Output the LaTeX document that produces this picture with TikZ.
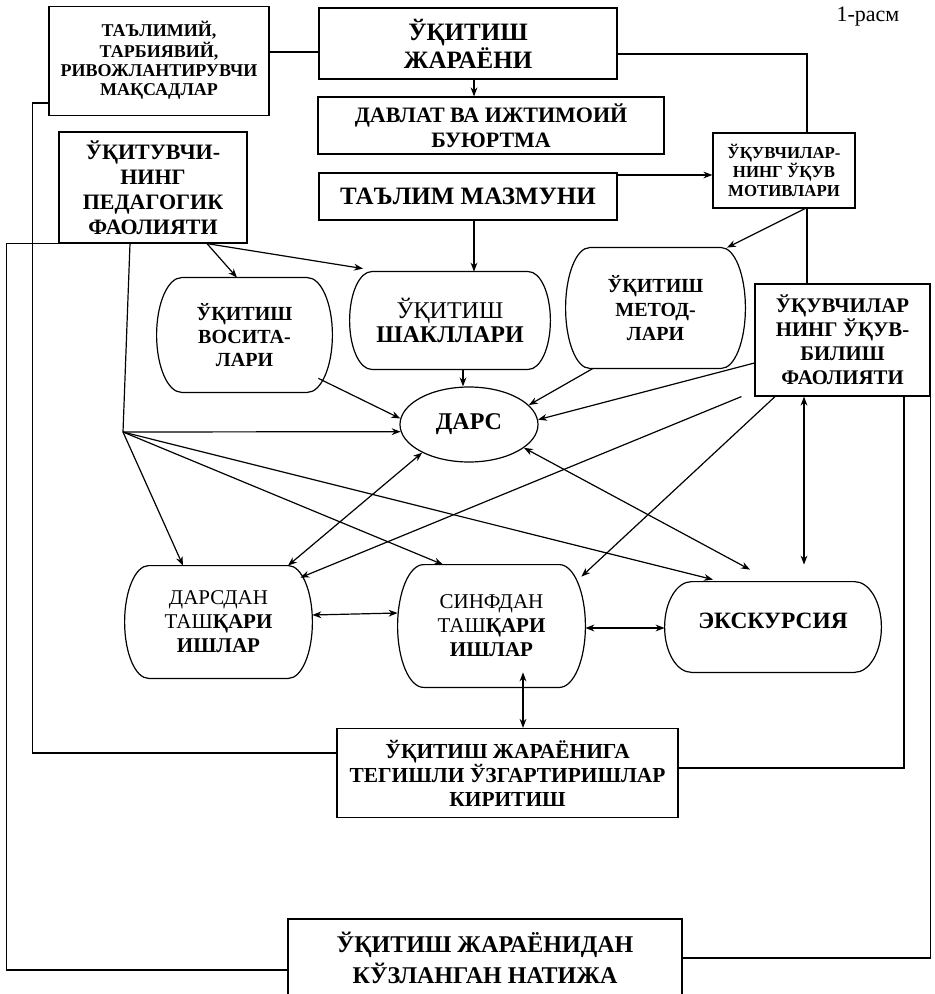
\documentclass[tikz,border=0pt]{standalone}
\usepackage{fontspec}
\setmainfont{Liberation Serif}
\usetikzlibrary{arrows.meta,calc,shapes.geometric}
\newcommand\stadium[2]{%
 \draw[ln] ([xshift=#2]#1.north west) -- ([xshift=-#2]#1.north east)
  .. controls ([xshift=-0.448*#2]#1.north east) and ($(#1.east)!0.552!(#1.north east)$) .. (#1.east)
  .. controls ($(#1.east)!0.552!(#1.south east)$) and ([xshift=-0.448*#2]#1.south east) .. ([xshift=-#2]#1.south east)
  -- ([xshift=#2]#1.south west)
  .. controls ([xshift=0.448*#2]#1.south west) and ($(#1.west)!0.552!(#1.south west)$) .. (#1.west)
  .. controls ($(#1.west)!0.552!(#1.north west)$) and ([xshift=0.448*#2]#1.north west) .. cycle;}
\begin{document}
\begin{tikzpicture}[x=0.5pt,y=-0.5pt,
  ln/.style={line width=0.6pt},
  box/.style={draw,line width=0.6pt,inner sep=0pt,align=center},
  stad/.style={inner sep=0pt,align=center},
  arr/.style={ln,-{Stealth[length=4.5pt,width=3.4pt]}},
  darr/.style={ln,{Stealth[length=4.5pt,width=3.4pt]}-{Stealth[length=4.5pt,width=3.4pt]}}]
\useasboundingbox[fill=white] (0,0) rectangle (935,994);

% boxes
\node[box,minimum width=110pt,minimum height=54.5pt,font=\fontsize{9}{9.5}\selectfont\bfseries] (goals) at (159,61)
  {\raisebox{6pt}{\begin{tabular}{@{}c@{}}ТАЪЛИМИЙ,\\ТАРБИЯВИЙ,\\РИВОЖЛАНТИРУВЧИ\\МАҚСАДЛАР\end{tabular}}};
\node[box,minimum width=149pt,minimum height=35.5pt,font=\fontsize{12.5}{14}\selectfont\bfseries] (jar) at (468,43.5)
  {ЎҚИТИШ\\ЖАРАЁНИ};
\node[box,minimum width=173pt,minimum height=28.5pt,font=\fontsize{11}{12.5}\selectfont\bfseries] (dav) at (491,125.5)
  {ДАВЛАТ ВА ИЖТИМОИЙ\\БУЮРТМА};
\node[box,minimum width=149pt,minimum height=23.5pt,font=\fontsize{12.5}{14}\selectfont\bfseries] (maz) at (468,196.5)
  {ТАЪЛИМ МАЗМУНИ};
\node[box,minimum width=94pt,minimum height=55.5pt,font=\fontsize{11}{12.5}\selectfont\bfseries] (teach) at (153,187.5)
  {ЎҚИТУВЧИ-\\НИНГ\\ПЕДАГОГИК\\ФАОЛИЯТИ};
\node[box,minimum width=71pt,minimum height=37.5pt,font=\fontsize{8.4}{9.5}\selectfont\bfseries] (mot) at (784,170.5)
  {ЎҚУВЧИЛАР-\\НИНГ ЎҚУВ\\МОТИВЛАРИ};
\node[box,minimum width=87.5pt,minimum height=56pt,font=\fontsize{10.4}{12}\selectfont\bfseries] (stud) at (842.5,340)
  {ЎҚУВЧИЛАР\\НИНГ ЎҚУВ-\\БИЛИШ\\ФАОЛИЯТИ};
\node[box,minimum width=170.5pt,minimum height=44.5pt,font=\fontsize{10.7}{12}\selectfont\bfseries] (teg) at (507.5,773)
  {ЎҚИТИШ ЖАРАЁНИГА\\ТЕГИШЛИ ЎЗГАРТИРИШЛАР\\КИРИТИШ};
\node[box,minimum width=197pt,minimum height=43pt,font=\fontsize{12}{15.5}\selectfont\bfseries] (nat) at (485,962)
  {\raisebox{4pt}{\begin{tabular}{@{}c@{}}ЎҚИТИШ ЖАРАЁНИДАН\\КЎЗЛАНГАН НАТИЖА\end{tabular}}};

% rounded nodes
\node[stad,minimum width=87.5pt,minimum height=57pt,font=\fontsize{10}{11.5}\selectfont\bfseries] (vos) at (244.5,335)
  {ЎҚИТИШ\\ВОСИТА-\\ЛАРИ};
\node[stad,minimum width=100pt,minimum height=48.5pt,font=\fontsize{12}{12}\selectfont\bfseries] (shak) at (450,320.5)
  {{\mdseries ЎҚИТИШ}\\ШАКЛЛАРИ};
\node[stad,minimum width=89.5pt,minimum height=60pt,font=\fontsize{10}{12}\selectfont\bfseries] (met) at (655.5,308)
  {ЎҚИТИШ\\МЕТОД-\\ЛАРИ};
\node[stad,minimum width=93.5pt,minimum height=56pt,font=\fontsize{10.5}{12}\selectfont\bfseries] (dd) at (218.5,622)
  {{\mdseries ДАРСДАН}\\{\mdseries ТАШ}ҚАРИ\\ИШЛАР};
\node[stad,minimum width=93.5pt,minimum height=61pt,font=\fontsize{10.5}{12}\selectfont\bfseries] (sd) at (491.5,626)
  {{\mdseries СИНФДАН}\\{\mdseries ТАШ}ҚАРИ\\ИШЛАР};
\node[stad,minimum width=108pt,minimum height=45pt,font=\fontsize{11.7}{13}\selectfont\bfseries] (exk) at (773,627)
  {\raisebox{6.5pt}{ЭКСКУРСИЯ}};
\stadium{vos}{12.5pt}
\stadium{shak}{11pt}
\stadium{met}{12pt}
\stadium{dd}{12pt}
\stadium{sd}{13pt}
\stadium{exk}{13.5pt}

\node[draw,ellipse,ln,inner sep=0pt,minimum width=69pt,minimum height=37.5pt,font=\fontsize{12}{13}\selectfont\bfseries] (dars) at (469,424.5) {ДАРС};

\node[font=\fontsize{11}{12}\selectfont,anchor=base] (fig) at (868,22) {1-расм};

% connectors
\draw[ln] (goals.east |- 0,52) -- (jar.west |- 0,52);
\draw[arr] (jar.south -| 474,0) -- (dav.north -| 474,0);
\draw[ln] (jar.east |- 0,54) -| (mot.north -| 807,0);
\draw[arr] (maz.east |- 0,175) -- (mot.west |- 0,175);
\draw[arr] (maz.south -| 474,0) -- (shak.north -| 474,0);
\draw[arr] (mot.south -| 805,0) -- (met.north -| 727,0);
\draw[ln] (mot.south -| 807,0) -- (stud.north -| 807,0);
\draw[arr] (teach.south -| 207,0) -- (vos.north -| 237,0);
\draw[arr] (teach.south -| 207,0) -- ($(shak.north -| 363,0)+(0,-3)$);
\draw[arr] ([xshift=-7pt,yshift=7pt]vos.south east) -- (dars.175);
\draw[arr] (shak.south -| 463,0) -- (dars.north -| 463,0);
\draw[arr] (met.south -| 593,0) -- (dars.18);
\draw[arr] (stud.west |- 0,363) -- (dars.4);

\coordinate (hub) at (123,432);
\draw[ln] (teach.south -| 130,0) -- (hub);
\draw[arr] (hub) -- (dars.186);
\draw[arr] (hub) -- (dd.north -| 183,0);
\draw[arr] (hub) -- (sd.north -| 443,0);
\draw[arr] (hub) -- ($(exk.north -| 713,0)+(0,-2)$);

\draw[darr] (dars.211) -- (dd.north -| 288,0);
\draw[arr] ([xshift=-6.5pt]stud.south west) -- ([xshift=-6pt,yshift=-6pt]dd.north east);
\draw[arr] (stud.south -| 775,0) -- ([xshift=-2pt,yshift=-6pt]sd.north east);
\draw[darr] (dars.337) -- ($(exk.north -| 750,0)+(0,-12)$);
\draw[darr] (stud.south -| 804,0) -- ($(exk.north -| 804,0)+(0,-17)$);
\draw[ln] (stud.south -| 904,0) |- (teg.east |- 0,768);
\draw[ln] (stud.south east) |- (nat.east |- 0,958);
\draw[ln] (teach.south west) -- ++(-52,0) |- (nat.west |- 0,970);
\draw[ln] (goals.west |- 0,103) -- ++(-16,0) |- (teg.west |- 0,753);

\draw[darr] (dd.east |- 0,615) -- (sd.west |- 0,613);
\draw[darr] (sd.east |- 0,628) -- (exk.west |- 0,628);
\draw[darr] ($(sd.south -| 523,0)+(0,-15)$) -- (teg.north -| 523,0);
\end{tikzpicture}
\end{document}
